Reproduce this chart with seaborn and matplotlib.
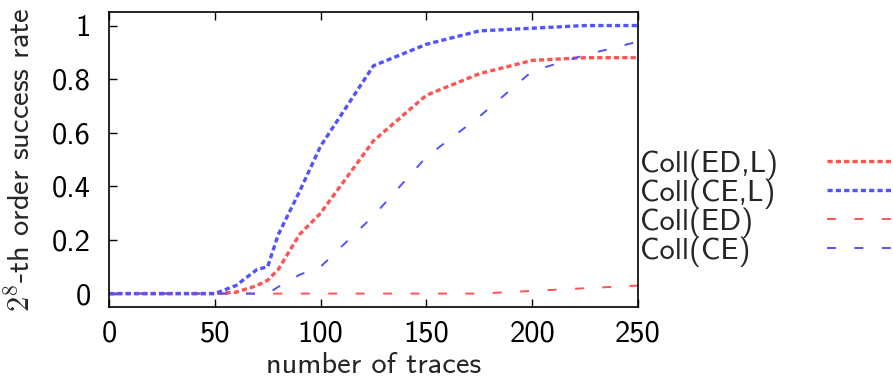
import matplotlib
matplotlib.use("Agg")
import matplotlib.pyplot as plt
import numpy as np
import pandas as pd
import seaborn as sns

# data
traces = [0, 10, 20, 30, 40, 50, 60, 70, 75, 80, 90, 100, 125, 150, 175, 200, 225, 250]
coll_ed_l = [0, 0, 0, 0, 0, 0, 0.005, 0.03, 0.05, 0.09, 0.22, 0.30, 0.57, 0.74, 0.82, 0.87, 0.88, 0.88]
coll_ce_l = [0, 0, 0, 0, 0, 0, 0.03, 0.09, 0.10, 0.22, 0.38, 0.55, 0.85, 0.93, 0.98, 0.99, 1.0, 1.0]
coll_ed = [0, 0, 0, 0, 0, 0, 0, 0, 0, 0, 0, 0, 0, 0, 0, 0.01, 0.02, 0.03]
coll_ce = [0, 0, 0, 0, 0, 0, 0, 0, 0, 0.025, 0.07, 0.10, 0.29, 0.51, 0.66, 0.83, 0.89, 0.94]

x_ticks = [0, 50, 100, 150, 200, 250]
y_ticks = [0, 0.2, 0.4, 0.6, 0.8, 1]
y_tick_labels = ["0", "0.2", "0.4", "0.6", "0.8", "1"]

RED = "#ff5252"
BLUE = "#5252ff"
FS = 22

# label, values, colour, linewidth, dash pattern (in linewidths)
SERIES = [
    ("Coll(ED,L)", coll_ed_l, RED, 2.4, (1.55, 0.95)),
    ("Coll(CE,L)", coll_ce_l, BLUE, 2.4, (1.55, 0.95)),
    ("Coll(ED)", coll_ed, RED, 1.4, (4.6, 9.5)),
    ("Coll(CE)", coll_ce, BLUE, 1.4, (4.6, 9.5)),
]

sns.set_style("ticks")
plt.rcParams["font.family"] = ["cmss10", "DejaVu Sans"]
plt.rcParams["mathtext.fontset"] = "cm"
plt.rcParams["axes.unicode_minus"] = False

fig = plt.figure(figsize=(8.93, 3.79), dpi=100)
ax = fig.add_axes([0.122, 0.19, 0.5925, 0.778])

for label, values, colour, lw, dash in SERIES:
    df = pd.DataFrame({"traces": traces, "rate": values})
    sns.lineplot(data=df, x="traces", y="rate", ax=ax, color=colour,
                 linewidth=lw, label=label)
    ax.lines[-1].set_dashes(dash)

ax.set_xlim(0, 250)
ax.set_ylim(-0.05, 1.05)
ax.set_xticks(x_ticks)
ax.set_yticks(y_ticks)
ax.set_yticklabels(y_tick_labels)

ax.set_xlabel("number of traces", fontsize=FS, labelpad=3)
ax.set_ylabel(r"$2^8$-th order success rate", fontsize=FS, labelpad=12)

ax.tick_params(axis="both", direction="in", length=6, width=1,
               labelsize=FS, colors="black")
ax.tick_params(axis="y", pad=13)
ax.tick_params(axis="x", top=True, pad=10)
for side in ["top", "right", "left", "bottom"]:
    ax.spines[side].set_visible(True)
    ax.spines[side].set_color("black")
    ax.spines[side].set_linewidth(1.2)

# legend: left-aligned labels, samples in a column further right
handles, labels = ax.get_legend_handles_labels()
leg_kw = dict(frameon=False, fontsize=FS, labelspacing=-0.05, borderpad=0,
              borderaxespad=0, loc="center left")
text_leg = ax.legend(handles, labels, bbox_to_anchor=(1.003, 0.335),
                     handlelength=0, handletextpad=0, **leg_kw)
for h in text_leg.legend_handles:
    h.set_visible(False)
ax.add_artist(text_leg)
line_leg = ax.legend(handles, labels, bbox_to_anchor=(1.358, 0.335),
                     handlelength=3.6, handletextpad=0, **leg_kw)
for t in line_leg.get_texts():
    t.set_visible(False)

plt.savefig("out.png", dpi=100)
plt.close()
